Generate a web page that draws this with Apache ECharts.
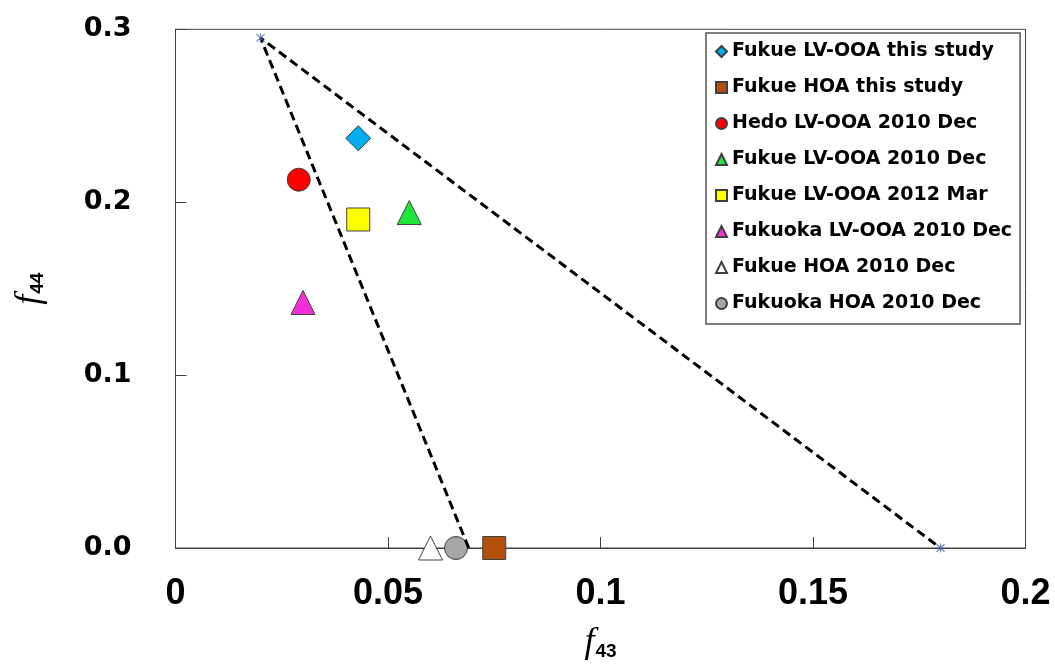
<!DOCTYPE html>
<html>
<head>
<meta charset="utf-8">
<script src="https://cdn.jsdelivr.net/npm/echarts@6/dist/echarts.min.js"></script>
<style>
  html, body { margin: 0; padding: 0; background: #ffffff; }
  #chart { width: 1055px; height: 666px; }
</style>
</head>
<body>
<div id="chart"></div>
<script>
// ---- data ----
const seriesNames = [
  'Fukue LV-OOA this study',
  'Fukue HOA this study',
  'Hedo LV-OOA 2010 Dec',
  'Fukue LV-OOA 2010 Dec',
  'Fukue LV-OOA 2012 Mar',
  'Fukuoka LV-OOA 2010 Dec',
  'Fukue HOA 2010 Dec',
  'Fukuoka HOA 2010 Dec'
];
const f43Values = [0.043, 0.075, 0.029, 0.055, 0.043, 0.030, 0.060, 0.066];
const f44Values = [0.237, 0.000, 0.213, 0.194, 0.190, 0.142, 0.000, 0.000];

// triangle guide (dashed): HOA corner -> apex -> right corner
const triangleX = [0.069, 0.020, 0.180];
const triangleY = [0.000, 0.295, 0.000];
// star markers at the triangle vertices
const starX = [0.020, 0.180];
const starY = [0.295, 0.000];

const xTickValues = [0, 0.05, 0.1, 0.15, 0.2];
const xTickLabels = ['0', '0.05', '0.1', '0.15', '0.2'];
const yTickValues = [0, 0.1, 0.2, 0.3];
const yTickLabels = ['0.0', '0.1', '0.2', '0.3'];

// ---- styles ----
const symbols = ['diamond', 'rect', 'circle', 'triangle', 'rect', 'triangle', 'triangle', 'circle'];
const colors = ['#00AEEF', '#B4500E', '#FF0000', '#1FE63A', '#FFFF00', '#F22FD8', '#FFFFFF', '#A6A6A6'];
const sizes = [25, 23, 23, 24, 23, 24, 24, 23];

function lookup(values, labels, v) {
  for (let i = 0; i < values.length; i++) {
    if (Math.abs(values[i] - v) < 1e-9) return labels[i];
  }
  return '';
}

const starPath = 'path://M4.4,0 L5.6,0 L5.6,10 L4.4,10 Z M0.4,1.3 L1.3,0.4 L9.6,8.7 L8.7,9.6 Z M8.7,0.4 L9.6,1.3 L1.3,9.6 L0.4,8.7 Z';

const series = seriesNames.map((name, i) => ({
  name: name,
  type: 'scatter',
  symbol: symbols[i],
  symbolSize: sizes[i],
  z: 2,
  itemStyle: { color: colors[i], borderColor: '#404040', borderWidth: 1, opacity: 1 },
  emphasis: { disabled: true },
  data: [[f43Values[i], f44Values[i]]]
}));

series.push({
  name: 'triangle',
  type: 'line',
  z: 3,
  showSymbol: false,
  symbol: 'none',
  lineStyle: { color: '#000000', width: 3, type: [9, 5] },
  emphasis: { disabled: true },
  data: triangleX.map((x, i) => [x, triangleY[i]])
});

series.push({
  name: 'stars',
  type: 'scatter',
  z: 4,
  symbol: starPath,
  symbolSize: 9,
  itemStyle: { color: '#4A6CC0' },
  emphasis: { disabled: true },
  data: starX.map((x, i) => [x, starY[i]])
});

const nameRich = {
  f: { fontFamily: 'Liberation Serif', fontStyle: 'italic', fontSize: 36, color: '#000', verticalAlign: 'bottom', lineHeight: 36 },
  s: { fontFamily: 'Liberation Sans', fontWeight: 'bold', fontSize: 19, color: '#000', verticalAlign: 'bottom', lineHeight: 36, padding: [0, 0, 0, 1] }
};

const chart = echarts.init(document.getElementById('chart'));
chart.setOption({
  backgroundColor: '#ffffff',
  animation: false,
  grid: {
    left: 175.5, right: 29.5, top: 29.3, bottom: 113.5,
    show: true, borderColor: '#404040', borderWidth: 1, backgroundColor: 'transparent'
  },
  legend: {
    data: seriesNames,
    orient: 'vertical',
    left: 706,
    top: 33,
    padding: [9, 8, 11, 9],
    itemGap: 17,
    itemWidth: 11,
    itemHeight: 11,
    borderColor: '#555555',
    borderWidth: 1.5,
    backgroundColor: '#ffffff',
    selectedMode: false,
    textStyle: {
      fontFamily: 'DejaVu Sans',
      fontWeight: 'bold',
      fontSize: 19,
      lineHeight: 19,
      color: '#000000'
    }
  },
  xAxis: {
    type: 'value',
    min: 0,
    max: 0.2,
    interval: 0.05,
    name: '{f|f}{s|43}',
    nameLocation: 'middle',
    nameGap: 77,
    nameTextStyle: { rich: nameRich },
    axisLine: { show: true, lineStyle: { color: '#404040', width: 1 } },
    axisTick: { show: true, inside: true, length: 11, lineStyle: { color: '#404040', width: 1 } },
    splitLine: { show: false },
    axisLabel: {
      margin: 28,
      fontFamily: 'Liberation Sans',
      fontWeight: 'bold',
      fontSize: 36,
      color: '#000000',
      formatter: v => lookup(xTickValues, xTickLabels, v)
    }
  },
  yAxis: {
    type: 'value',
    min: 0,
    max: 0.3,
    interval: 0.1,
    name: '{f|f}{s|44}',
    nameLocation: 'middle',
    nameRotate: 90,
    nameGap: 128,
    nameTextStyle: { rich: nameRich },
    axisLine: { show: true, lineStyle: { color: '#404040', width: 1 } },
    axisTick: { show: true, inside: true, length: 11, lineStyle: { color: '#404040', width: 1 } },
    splitLine: { show: false },
    axisLabel: {
      margin: 44,
      fontFamily: 'DejaVu Sans',
      fontWeight: 'bold',
      fontSize: 27,
      color: '#000000',
      formatter: v => lookup(yTickValues, yTickLabels, v)
    }
  },
  series: series
});
</script>
</body>
</html>
